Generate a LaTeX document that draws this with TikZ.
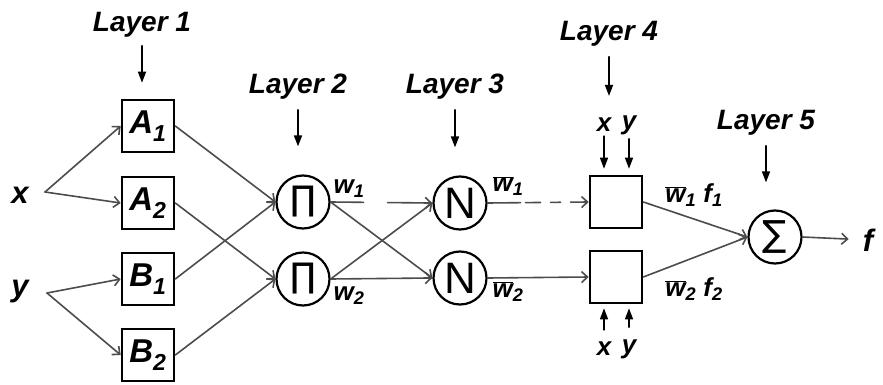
\documentclass[tikz,border=0pt]{standalone}
\usepackage{fontspec}
\setmainfont{Liberation Sans}
\newfontfamily\opfont{DejaVu Sans}
\usetikzlibrary{arrows.meta}

\newcommand{\wbar}{$\overline{\mbox{w}}$}

\begin{document}
\begin{tikzpicture}
		[x=1pt,y=-1pt,line cap=round,
		%Styles
		layer label/.style={font=\fontsize{28}{30}\selectfont\bfseries\itshape,inner sep=0pt},
		var label/.style={font=\fontsize{31}{33}\selectfont\bfseries\itshape,inner sep=0pt},
		small label/.style={font=\fontsize{26}{28}\selectfont\bfseries\itshape,inner sep=0pt},
		mf box/.style={draw,line width=2.6pt,minimum size=52pt,inner sep=0pt,font=\fontsize{33}{35}\selectfont\bfseries\itshape},
		rule box/.style={draw,line width=2.6pt,minimum size=52pt,inner sep=0pt},
		op circle/.style={draw,circle,line width=2.2pt,minimum size=53pt,inner sep=0pt},
		link/.style={draw=black!70,line width=1.6pt,-{Straight Barb[length=6pt,width=11pt]}},
		pointer/.style={line width=1.6pt,-{Triangle[length=11pt,width=8pt]}},
		broken/.style={dash pattern=on 33pt off 24pt on 90pt off 0pt}
		]
		
		\useasboundingbox (0,0) rectangle (883,385);
		
		%Inputs
		\node[var label] (x) at (20,195) {x};
		\node[var label] (y) at (20,292) {y};
		\coordinate (x0) at (45,192);
		\coordinate (y0) at (47,293);
		
		%Layer 1
		\node[layer label] (L1) at (142,25) {Layer 1};
		\node[mf box] (A1) at (148,126) {A\textsubscript{1}};
		\node[mf box] (A2) at (148,203) {A\textsubscript{2}};
		\node[mf box] (B1) at (148,279) {B\textsubscript{1}};
		\node[mf box] (B2) at (148,355) {B\textsubscript{2}};
		
		%Layer 2
		\node[layer label] (L2) at (298,87) {Layer 2};
		\node[op circle] (P1) at (303,202) {\opfont\fontsize{34}{34}\selectfont ∏};
		\node[op circle] (P2) at (303,279) {\opfont\fontsize{34}{34}\selectfont ∏};
		\node[small label] (w1) at (349,189) {w\textsubscript{1}};
		\node[small label] (w2) at (349,296) {w\textsubscript{2}};
		
		%Layer 3
		\node[layer label] (L3) at (455,87) {Layer 3};
		\node[op circle] (N1) at (460,203) {\fontsize{44}{44}\selectfont N};
		\node[op circle] (N2) at (460,278) {\fontsize{44}{44}\selectfont N};
		\node[small label] (wb1) at (508,186) {\wbar\textsubscript{1}};
		\node[small label] (wb2) at (508,292) {\wbar\textsubscript{2}};
		
		%Layer 4
		\node[layer label] (L4) at (609,34) {Layer 4};
		\node[rule box] (R1) at (616,202) {};
		\node[rule box] (R2) at (616,277) {};
		\node[small label] (xa) at (604,125) {x};
		\node[small label] (ya) at (629,125) {y};
		\node[small label] (xb) at (604,349) {x};
		\node[small label] (yb) at (629,349) {y};
		\node[small label] (wf1) at (694,195) {\wbar\textsubscript{1} f\textsubscript{1}};
		\node[small label] (wf2) at (694,289) {\wbar\textsubscript{2} f\textsubscript{2}};
		
		%Layer 5
		\node[layer label] (L5) at (766,123) {Layer 5};
		\node[op circle] (S) at (775,237) {\opfont\fontsize{36}{36}\selectfont ∑};
		\node[var label] (f) at (868,240) {f};
		
		%Layer pointers
		\draw[pointer,shorten <=8pt,shorten >=16pt] (L1) -- (L1 |- A1.north);
		\draw[pointer,shorten <=10pt,shorten >=28pt] (L2) -- (L2 |- P1.north);
		\draw[pointer,shorten <=10pt,shorten >=28pt] (L3) -- (L3 |- N1.north);
		\draw[pointer,shorten <=10pt,shorten >=22pt] (L4) -- (L4 |- xa.north);
		\draw[pointer,shorten <=10pt,shorten >=27pt] (L5) -- (L5 |- S.north);
		\foreach \v in {xa,ya}
			\draw[pointer,line width=1.3pt,shorten <=4pt,shorten >=6pt] (\v) -- (\v |- R1.north);
		\foreach \v in {xb,yb}
			\draw[pointer,line width=1.3pt,shorten <=12pt,shorten >=4pt] (\v) -- (\v |- R2.south);
		
		%Links
		\draw[link] (x0) -- (A1.west);
		\draw[link] (x0) -- (A2.west);
		\draw[link] (y0) -- (B1.west);
		\draw[link] (y0) -- (B2.west);
		\draw[link] (A1.east) -- (P1.west);
		\draw[link] (B1.east) -- (P1.west);
		\draw[link] (A2.east) -- (P2.west);
		\draw[link] (B2.east) -- (P2.west);
		\draw[link,broken] (P1.east) -- (N1.west);
		\draw[link] (P1.east) -- (N2.west);
		\draw[link] (P2.east) -- (N1.west);
		\draw[link] (P2.east) -- (N2.west);
		\draw[link,dash pattern=on 33pt off 5pt on 15pt off 10pt on 10pt off 10pt on 40pt off 0pt] (N1.east) -- (R1.west);
		\draw[link] (N2.east) -- (R2.west);
		\draw[link] (R1.east) -- (S.west);
		\draw[link] (R2.east) -- (S.west);
		\draw[link,shorten >=14pt] (S.east) -- (f);
	\end{tikzpicture}
\end{document}
